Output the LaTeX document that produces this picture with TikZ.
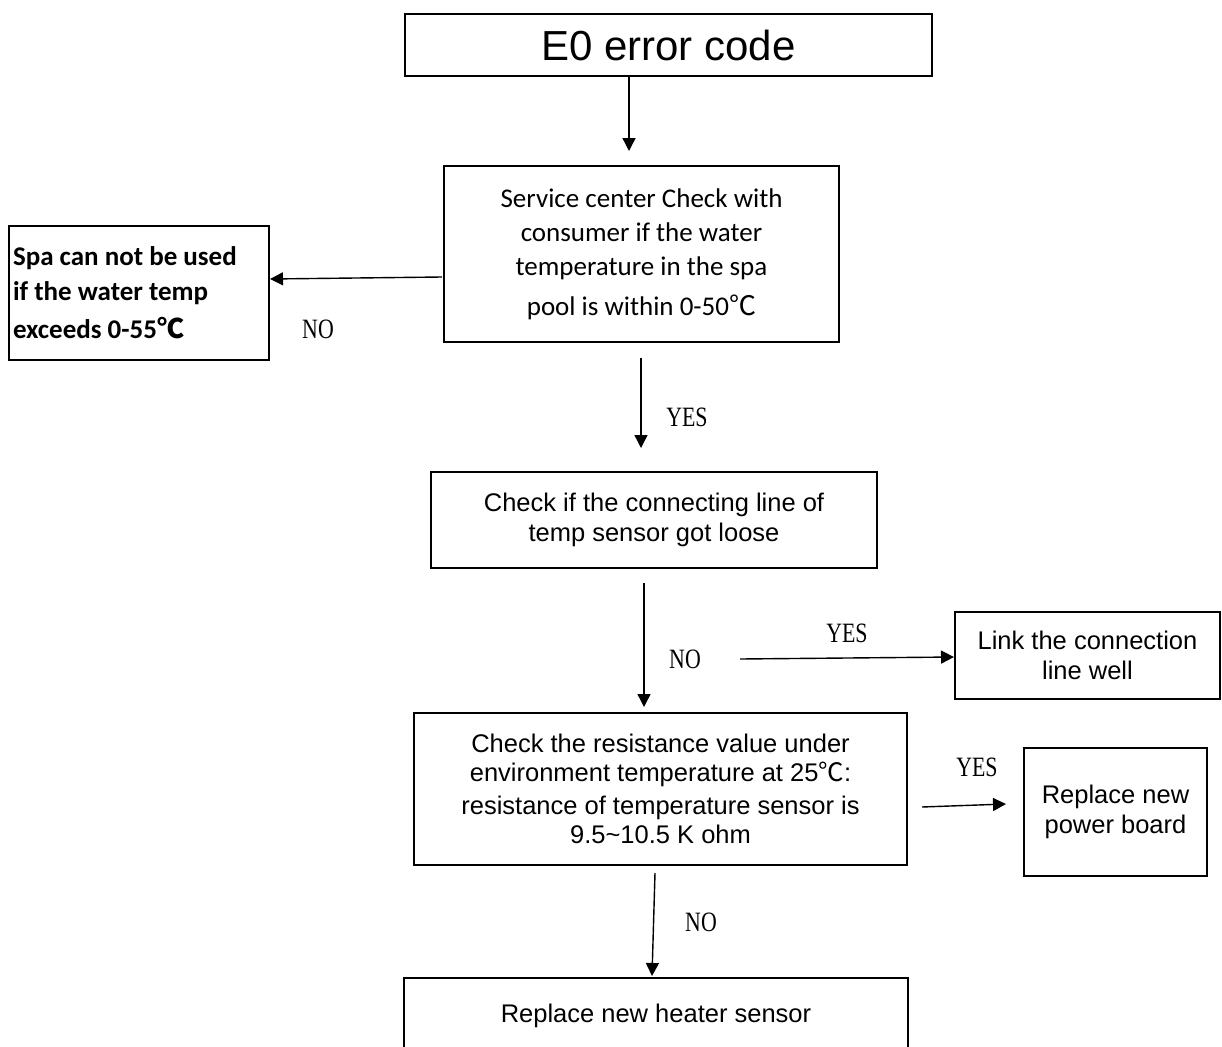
\documentclass[tikz,border=0pt]{standalone}
\usepackage{fontspec}
\setmainfont{Liberation Sans}
\newfontfamily\calib{Carlito}
\newfontfamily\labfont[FakeStretch=0.78]{Liberation Serif}
\newfontfamily\cjk{Noto Sans CJK SC}
\usetikzlibrary{arrows.meta}
\newcommand{\degC}{{\cjk ℃}}
\begin{document}
\begin{tikzpicture}[x=1pt,y=-1pt,
  box/.style={draw,line width=1.4pt,rectangle,inner sep=0pt,align=center,
    font=\fontsize{25.5}{29.5}\selectfont},
  arr/.style={line width=1.4pt,-{Triangle[length=13pt,width=13pt]}},
  lab/.style={font=\labfont\fontsize{28}{30}\selectfont,inner sep=0pt}]
\clip (0,0) rectangle (1222,1046);
\fill[white] (0,0) rectangle (1222,1046);

% boxes
\node[box,minimum width=527pt,minimum height=62pt,font=\fontsize{42}{46}\selectfont]
  (e0) at (668.5,45) {E0 error code};
\node[box,minimum width=395pt,minimum height=176pt,font=\calib\fontsize{27}{34}\selectfont]
  (svc) at (641.5,254) {Service center Check with\\consumer if the water\\temperature in the spa\\[6pt]pool is within 0-50\degC};
\node[box,minimum width=260pt,minimum height=134pt,align=flush left,text width=252pt,inner xsep=4pt,
  font=\calib\bfseries\fontsize{27}{35}\selectfont]
  (spa) at (139,293) {Spa can not be used\\if the water temp\\[3pt]exceeds 0-55\degC};
\node[box,minimum width=446pt,minimum height=96pt]
  (chk) at (654,520) {Check if the connecting line of\\temp sensor got loose};
\node[box,minimum width=265pt,minimum height=87pt]
  (link) at (1087.5,655.5) {Link the connection\\line well};
\node[box,minimum width=493pt,minimum height=152pt]
  (res) at (660.5,789) {Check the resistance value under\\environment temperature at 25\degC:\\[3pt]resistance of temperature sensor is\\9.5\textasciitilde10.5 K ohm};
\node[box,minimum width=183pt,minimum height=128pt]
  (pwr) at (1115.5,812) {Replace new\\power board};
\node[box,minimum width=504pt,minimum height=76pt]
  (htr) at (656,1016) {Replace new heater sensor};

% connector end points
\coordinate (a1s) at (629,76);   \coordinate (a1e) at (629,151);
\coordinate (a2s) at (442,277);  \coordinate (a2e) at (270,279);
\coordinate (a3s) at (641,358);  \coordinate (a3e) at (641,448);
\coordinate (a4s) at (644,583);  \coordinate (a4e) at (644,707);
\coordinate (a5s) at (740,659);  \coordinate (a5e) at (954,657);
\coordinate (a6s) at (922,807);  \coordinate (a6e) at (1006,804);
\coordinate (a7s) at (655,873);  \coordinate (a7e) at (652,976);

\draw[arr] (a1s) -- (a1e);
\draw[arr] (a2s) -- (a2e);
\draw[arr] (a3s) -- (a3e);
\draw[arr] (a4s) -- (a4e);
\draw[arr] (a5s) -- (a5e);
\draw[arr] (a6s) -- (a6e);
\draw[arr] (a7s) -- (a7e);

% labels
\node[lab] (no1) at (318,329) {NO};
\node[lab] (yes1) at (687,417) {YES};
\node[lab] (no2) at (685,659) {NO};
\node[lab] (yes2) at (847,633) {YES};
\node[lab] (yes3) at (977,767) {YES};
\node[lab] (no3) at (701,922) {NO};
\end{tikzpicture}
\end{document}
